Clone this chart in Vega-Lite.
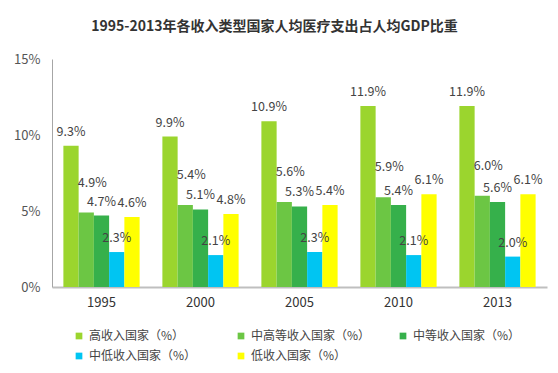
{
  "$schema": "https://vega.github.io/schema/vega-lite/v6.json",
  "autosize": "none",
  "width": 495,
  "height": 228,
  "padding": {"left": 52, "top": 59, "right": 11, "bottom": 86},
  "background": "white",
  "title": {
    "text": "1995-2013年各收入类型国家人均医疗支出占人均GDP比重",
    "font": "Noto Sans CJK SC",
    "fontSize": 14,
    "fontWeight": "bold",
    "color": "#333333",
    "anchor": "middle",
    "dx": -25,
    "offset": 19
  },
  "config": {
    "view": {"stroke": null},
    "font": "Noto Sans CJK SC"
  },
  "data": {
    "values": [
      {"year": "1995", "group": "高收入国家（%）", "value": 0.093},
      {"year": "1995", "group": "中高等收入国家（%）", "value": 0.049},
      {"year": "1995", "group": "中等收入国家（%）", "value": 0.047},
      {"year": "1995", "group": "中低收入国家（%）", "value": 0.023},
      {"year": "1995", "group": "低收入国家（%）", "value": 0.046},
      {"year": "2000", "group": "高收入国家（%）", "value": 0.099},
      {"year": "2000", "group": "中高等收入国家（%）", "value": 0.054},
      {"year": "2000", "group": "中等收入国家（%）", "value": 0.051},
      {"year": "2000", "group": "中低收入国家（%）", "value": 0.021},
      {"year": "2000", "group": "低收入国家（%）", "value": 0.048},
      {"year": "2005", "group": "高收入国家（%）", "value": 0.109},
      {"year": "2005", "group": "中高等收入国家（%）", "value": 0.056},
      {"year": "2005", "group": "中等收入国家（%）", "value": 0.053},
      {"year": "2005", "group": "中低收入国家（%）", "value": 0.023},
      {"year": "2005", "group": "低收入国家（%）", "value": 0.054},
      {"year": "2010", "group": "高收入国家（%）", "value": 0.119},
      {"year": "2010", "group": "中高等收入国家（%）", "value": 0.059},
      {"year": "2010", "group": "中等收入国家（%）", "value": 0.054},
      {"year": "2010", "group": "中低收入国家（%）", "value": 0.021},
      {"year": "2010", "group": "低收入国家（%）", "value": 0.061},
      {"year": "2013", "group": "高收入国家（%）", "value": 0.119},
      {"year": "2013", "group": "中高等收入国家（%）", "value": 0.060},
      {"year": "2013", "group": "中等收入国家（%）", "value": 0.056},
      {"year": "2013", "group": "中低收入国家（%）", "value": 0.020},
      {"year": "2013", "group": "低收入国家（%）", "value": 0.061}
    ]
  },
  "encoding": {
    "x": {
      "field": "year",
      "type": "nominal",
      "scale": {"paddingInner": 0.23, "paddingOuter": 0.115},
      "axis": {
        "title": null,
        "labelAngle": 0,
        "labelFontSize": 13,
        "labelColor": "#333333",
        "labelPadding": 9,
        "ticks": false,
        "domainColor": "#BFBFBF",
        "domainWidth": 2,
        "grid": false
      }
    },
    "xOffset": {
      "field": "group",
      "type": "nominal",
      "sort": ["高收入国家（%）", "中高等收入国家（%）", "中等收入国家（%）", "中低收入国家（%）", "低收入国家（%）"],
      "scale": {"paddingInner": 0, "paddingOuter": 0}
    },
    "y": {
      "field": "value",
      "type": "quantitative",
      "scale": {"domain": [0, 0.15], "nice": false},
      "axis": {
        "title": null,
        "values": [0, 0.05, 0.1, 0.15],
        "format": ".0%",
        "labelFontSize": 13,
        "labelColor": "#555555",
        "labelPadding": 12,
        "ticks": false,
        "grid": false,
        "domainColor": "#A6A6A6",
        "domainWidth": 1
      }
    }
  },
  "layer": [
    {
      "mark": {"type": "bar"},
      "encoding": {
        "color": {
          "field": "group",
          "type": "nominal",
          "scale": {
            "domain": ["高收入国家（%）", "中高等收入国家（%）", "中等收入国家（%）", "中低收入国家（%）", "低收入国家（%）"],
            "range": ["#9BD52E", "#6CC644", "#36B04B", "#00C5F2", "#FFFF00"]
          },
          "legend": {
            "title": null,
            "orient": "none",
            "legendX": 21,
            "legendY": 271,
            "direction": "horizontal",
            "columns": 3,
            "gridAlign": "all",
            "columnPadding": 26,
            "rowPadding": 8,
            "symbolType": "square",
            "symbolSize": 45,
            "symbolStrokeWidth": 0,
            "labelFontSize": 12,
            "labelColor": "#444444",
            "labelOffset": 4,
            "labelLimit": 200
          }
        }
      }
    },
    {
      "transform": [{"filter": "datum.group !== '中高等收入国家（%）'"}],
      "mark": {"type": "text", "baseline": "middle", "dy": -14, "fontSize": 12.5, "color": "#444444"},
      "encoding": {
        "text": {"field": "value", "type": "quantitative", "format": ".1%"}
      }
    },
    {
      "transform": [{"filter": "datum.group === '中高等收入国家（%）'"}],
      "mark": {"type": "text", "baseline": "middle", "dy": -30, "dx": 6, "fontSize": 12.5, "color": "#444444"},
      "encoding": {
        "text": {"field": "value", "type": "quantitative", "format": ".1%"}
      }
    }
  ]
}
